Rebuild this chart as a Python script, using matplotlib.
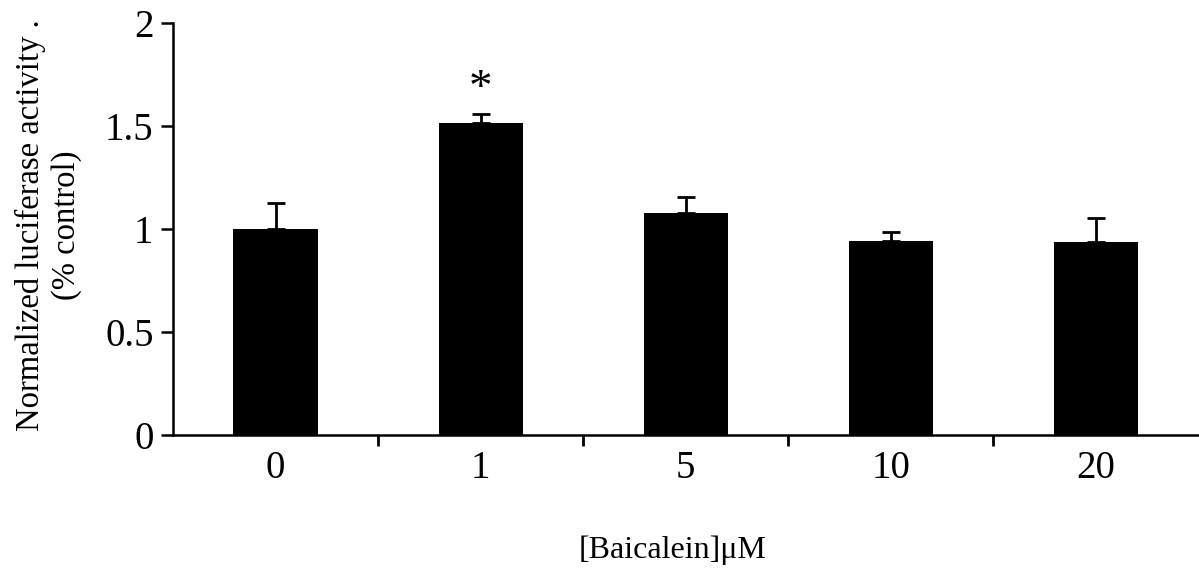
import matplotlib
matplotlib.use("Agg")
import matplotlib.pyplot as plt
import numpy as np

categories = ["0", "1", "5", "10", "20"]
values = [1.00, 1.515, 1.078, 0.942, 0.937]
errors = [0.126, 0.045, 0.077, 0.045, 0.118]
significance = ["", "*", "", "", ""]

plt.rcParams['font.family'] = ['Liberation Serif', 'DejaVu Serif']

fig = plt.figure(figsize=(11.99, 5.68), dpi=100)
ax = fig.add_axes([0.1443, 0.2342, 0.855, 0.7253])

x = np.arange(len(categories))
ax.bar(x, values, width=0.41, color='black', zorder=2)
ax.errorbar(x, values, yerr=[np.zeros(len(errors)), errors], fmt='none',
            ecolor='black', elinewidth=2, capsize=6.5, capthick=2, zorder=3)

for xi, v, e, s in zip(x, values, errors, significance):
    if s:
        ax.annotate(s, (xi, v + e), xytext=(0, 2), textcoords='offset points',
                    ha='center', va='bottom', fontsize=34)

ax.set_xlim(-0.5, len(categories) - 0.5)
ax.set_ylim(0, 2)
ax.set_yticks([0, 0.5, 1, 1.5, 2])
ax.set_yticklabels(["0", "0.5", "1", "1.5", "2"])
ax.set_xticks(x)
ax.set_xticklabels(categories)
ax.set_xticks(np.arange(0.5, len(categories) - 0.5, 1.0), minor=True)
ax.tick_params(axis='x', which='major', length=0, labelsize=28, pad=11)
ax.tick_params(axis='x', which='minor', length=8, width=2, direction='out')
ax.tick_params(axis='y', which='major', length=9, width=1.8, direction='out', labelsize=28, pad=5)

ax.spines['top'].set_visible(False)
ax.spines['right'].set_visible(False)
ax.spines['left'].set_linewidth(1.8)
ax.spines['bottom'].set_linewidth(1.8)

ax.set_ylabel("Normalized luciferase activity .\n(% control)", fontsize=23.5,
              linespacing=1.2)
ax.yaxis.set_label_coords(-0.089, 0.51)
ax.set_xlabel("[Baicalein]μM", fontsize=23)
ax.xaxis.set_label_coords(0.487, -0.243)

fig.savefig("out.png", dpi=100)
